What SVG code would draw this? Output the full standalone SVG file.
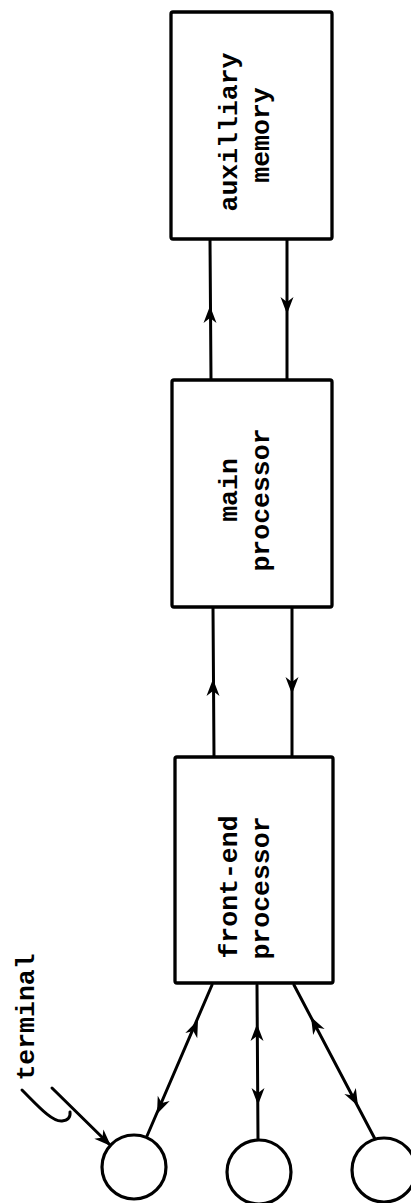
<svg xmlns="http://www.w3.org/2000/svg" xmlns:xlink="http://www.w3.org/1999/xlink" width="411" height="1203" viewBox="0 0 411 1203">
<style>
.box{fill:#fff;stroke:#000;stroke-width:3.3}
.term{fill:#fff;stroke:#000;stroke-width:3.2}
.ln{fill:none;stroke:#000;stroke-width:3;stroke-linecap:round}
.lbl{font-family:"Liberation Mono","DejaVu Sans Mono",monospace;font-size:26.5px;font-weight:bold;fill:#000;text-anchor:middle}
</style>
<defs>
<path id="ah" d="M0,0 L-17,-6.5 L-12,0 L-17,6.5 Z" fill="#000"/>
</defs>
<rect width="411" height="1203" fill="#fff"/>
<g id="connectors">
<line class="ln" x1="210" y1="239" x2="211" y2="380"/>
<use xlink:href="#ah" transform="translate(210,306) rotate(-90)"/>
<line class="ln" x1="287" y1="239" x2="287" y2="380"/>
<use xlink:href="#ah" transform="translate(287,314) rotate(90)"/>
<line class="ln" x1="213" y1="607" x2="214" y2="757"/>
<use xlink:href="#ah" transform="translate(213,679) rotate(-90)"/>
<line class="ln" x1="292" y1="607" x2="292" y2="757"/>
<use xlink:href="#ah" transform="translate(292,694) rotate(90)"/>
<line class="ln" x1="212" y1="985" x2="147" y2="1136"/>
<use xlink:href="#ah" transform="translate(198,1020) rotate(-66.7)"/>
<use xlink:href="#ah" transform="translate(157,1114) rotate(113.3)"/>
<line class="ln" x1="257" y1="985" x2="258" y2="1140"/>
<use xlink:href="#ah" transform="translate(257,1024) rotate(-90)"/>
<use xlink:href="#ah" transform="translate(258,1105) rotate(90)"/>
<line class="ln" x1="294" y1="985" x2="375" y2="1139"/>
<use xlink:href="#ah" transform="translate(311,1017) rotate(-117.7)"/>
<use xlink:href="#ah" transform="translate(358,1106) rotate(62.3)"/>
<line class="ln" x1="52" y1="1088" x2="109" y2="1144"/>
<use xlink:href="#ah" transform="translate(111,1146) rotate(44.5)"/>
<path class="ln" d="M22,1090 C38,1106 52,1122 62,1121 Q71,1120 70,1112"/>
</g>
<g id="aux-memory">
<rect class="box" x="171" y="12" width="161" height="227" rx="2"/>
<text class="lbl" transform="translate(237,132) rotate(-90)">auxilliary</text>
<text class="lbl" transform="translate(269,135) rotate(-90)">memory</text>
</g>
<g id="main-processor">
<rect class="box" x="172" y="380" width="160" height="227" rx="2"/>
<text class="lbl" transform="translate(237,490) rotate(-90)">main</text>
<text class="lbl" transform="translate(269,500) rotate(-90)">processor</text>
</g>
<g id="front-end-processor">
<rect class="box" x="175" y="757" width="158" height="226" rx="2"/>
<text class="lbl" transform="translate(237,887) rotate(-90)">front-end</text>
<text class="lbl" transform="translate(269,888) rotate(-90)">processor</text>
</g>
<g id="terminal-label">
<text class="lbl" transform="translate(34,1017) rotate(-90)">terminal</text>
</g>
<g id="terminal-1"><circle class="term" cx="134" cy="1167" r="32"/></g>
<g id="terminal-2"><circle class="term" cx="259" cy="1172" r="32"/></g>
<g id="terminal-3"><circle class="term" cx="384" cy="1170" r="32"/></g>
</svg>
